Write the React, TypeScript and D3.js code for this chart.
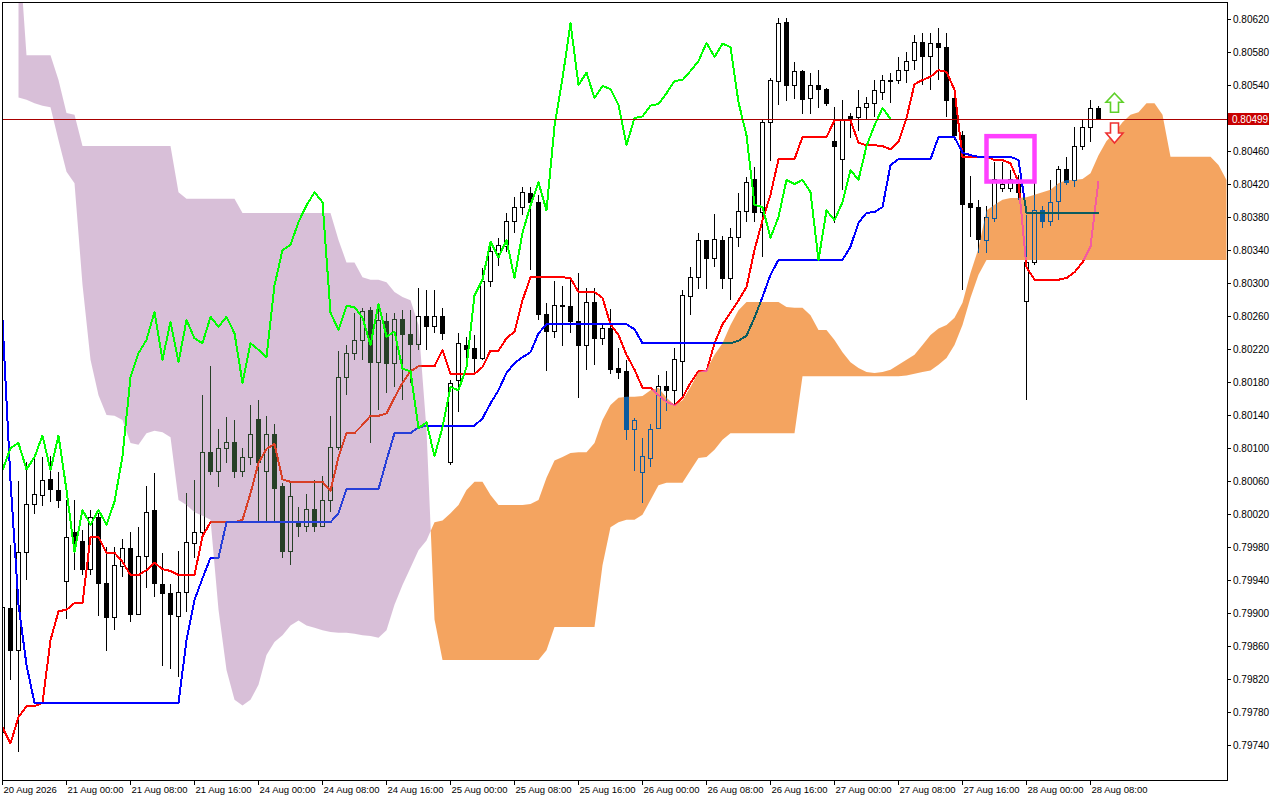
import React from 'react';
import * as d3 from 'd3';

// ---- Data (prices in points, 1 point = 0.00001) ----
const xTickIndex = [0, 8, 16, 24, 32, 40, 48, 56, 64, 72, 80, 88, 96, 104, 112, 120, 128, 136];
const xTickText = ['20 Aug 2026', '21 Aug 00:00', '21 Aug 08:00', '21 Aug 16:00', '24 Aug 00:00', '24 Aug 08:00',
  '24 Aug 16:00', '25 Aug 00:00', '25 Aug 08:00', '25 Aug 16:00', '26 Aug 00:00', '26 Aug 08:00', '26 Aug 16:00',
  '27 Aug 00:00', '27 Aug 08:00', '27 Aug 16:00', '28 Aug 00:00', '28 Aug 08:00'];
const yTicks = [0.7974, 0.7978, 0.7982, 0.7986, 0.799, 0.7994, 0.7998, 0.8002, 0.8006, 0.801, 0.8014, 0.8018,
  0.8022, 0.8026, 0.803, 0.8034, 0.8038, 0.8042, 0.8046, 0.805, 0.8054, 0.8058, 0.8062];

const openPts = [
  79755, 79906, 79855, 79973, 80032, 80043, 80062, 80048, 79938, 79997,
  79987, 79953, 80016, 79936, 79894, 79956, 79978, 79898, 79969, 80024,
  79935, 79924, 79896, 79925, 79984, 79997, 80095, 80071, 80100, 80107,
  80072, 80089, 80135, 80071, 80116, 80053, 79974, 80009, 80005, 80025,
  80005, 80036, 80101, 80186, 80215, 80230, 80267, 80204, 80253, 80203,
  80256, 80237, 80226, 80260, 80247, 80260, 80083, 80182, 80224, 80221,
  80209, 80302, 80336, 80344, 80375, 80392, 80409, 80398, 80262, 80241,
  80273, 80272, 80253, 80224, 80276, 80233, 80245, 80196, 80193, 80123,
  80070, 80087, 80124, 80174, 80170, 80205, 80284, 80307, 80351, 80330,
  80351, 80306, 80355, 80387, 80425, 80385, 80495, 80544, 80616, 80539,
  80556, 80524, 80539, 80534, 80471, 80450, 80502, 80501, 80513, 80517,
  80531, 80546, 80545, 80557, 80570, 80591, 80574, 80590, 80586, 80524,
  80479, 80396, 80392, 80352, 80378, 80415, 80415, 80419, 80277, 80325,
  80388, 80374, 80399, 80438, 80424, 80465, 80488, 80512];
const highPts = [
  79916, 79982, 80060, 80083, 80087, 80089, 80090, 80071, 80037, 80037,
  80001, 80025, 80021, 79980, 79980, 79990, 79998, 80004, 80054, 80070,
  79973, 79935, 79975, 80045, 80061, 80164, 80199, 80123, 80138, 80134,
  80100, 80152, 80158, 80139, 80129, 80058, 80058, 80028, 80044, 80061,
  80066, 80139, 80218, 80225, 80264, 80270, 80271, 80273, 80264, 80264,
  80267, 80267, 80294, 80291, 80291, 80270, 80182, 80239, 80235, 80237,
  80318, 80351, 80355, 80385, 80404, 80416, 80416, 80407, 80276, 80302,
  80296, 80304, 80312, 80294, 80294, 80251, 80268, 80221, 80207, 80136,
  80112, 80129, 80188, 80193, 80221, 80291, 80319, 80361, 80351, 80384,
  80357, 80367, 80409, 80428, 80441, 80497, 80548, 80621, 80621, 80568,
  80558, 80555, 80558, 80536, 80513, 80522, 80506, 80534, 80525, 80546,
  80552, 80555, 80574, 80580, 80601, 80603, 80603, 80609, 80603, 80528,
  80484, 80430, 80401, 80393, 80447, 80447, 80437, 80431, 80382, 80421,
  80393, 80425, 80442, 80453, 80489, 80497, 80522, 80515];
const lowPts = [
  79740, 79819, 79732, 79940, 80020, 80030, 80035, 80027, 79893, 79952,
  79946, 79946, 79896, 79854, 79879, 79944, 79889, 79898, 79930, 79919,
  79836, 79832, 79822, 79901, 79967, 79988, 80067, 80053, 80082, 80064,
  80065, 80079, 80011, 80011, 80011, 79967, 79958, 79992, 79998, 79998,
  80005, 80022, 80098, 80164, 80207, 80207, 80106, 80146, 80167, 80174,
  80158, 80179, 80219, 80219, 80239, 80231, 80079, 80144, 80207, 80188,
  80207, 80295, 80321, 80338, 80361, 80382, 80316, 80255, 80193, 80233,
  80224, 80239, 80161, 80195, 80201, 80225, 80190, 80184, 80110, 80072,
  80033, 80077, 80123, 80145, 80153, 80161, 80261, 80293, 80293, 80319,
  80293, 80279, 80344, 80374, 80374, 80331, 80448, 80516, 80521, 80523,
  80505, 80505, 80512, 80515, 80373, 80413, 80476, 80484, 80499, 80501,
  80522, 80518, 80541, 80542, 80558, 80540, 80534, 80546, 80501, 80473,
  80291, 80356, 80336, 80336, 80374, 80410, 80410, 80401, 80158, 80322,
  80367, 80369, 80376, 80419, 80416, 80461, 80471, 80497];
const closePts = [
  79907, 79855, 79973, 80032, 80044, 80061, 80050, 80036, 79991, 79986,
  79953, 80016, 79936, 79895, 79957, 79978, 79898, 79969, 80022, 79936,
  79924, 79898, 79925, 79985, 79997, 80095, 80071, 80100, 80107, 80072,
  80089, 80116, 80083, 80116, 80051, 79974, 80041, 80005, 80025, 80005,
  80036, 80101, 80186, 80215, 80230, 80266, 80204, 80254, 80203, 80256,
  80237, 80225, 80260, 80247, 80260, 80239, 80178, 80227, 80220, 80209,
  80302, 80338, 80346, 80375, 80392, 80410, 80398, 80262, 80241, 80273,
  80271, 80253, 80224, 80276, 80233, 80245, 80195, 80192, 80122, 80133,
  80090, 80123, 80174, 80170, 80207, 80285, 80307, 80351, 80330, 80353,
  80305, 80355, 80387, 80422, 80385, 80495, 80546, 80615, 80539, 80556,
  80523, 80539, 80535, 80518, 80466, 80497, 80500, 80513, 80517, 80533,
  80545, 80544, 80558, 80568, 80591, 80574, 80590, 80586, 80521, 80479,
  80395, 80392, 80353, 80380, 80425, 80419, 80425, 80410, 80325, 80388,
  80374, 80398, 80438, 80422, 80465, 80488, 80512, 80499];

const tenkanPts = [
  79761, 79742, 79774, 79787, 79787, 79791, 79867, 79902, 79904, 79912,
  79912, 79992, 79992, 79973, 79973, 79962, 79946, 79946, 79952, 79961,
  79953, 79951, 79946, 79946, 79946, 79993, 80010, 80010, 80010, 80010,
  80013, 80045, 80082, 80099, 80105, 80062, 80059, 80059, 80059, 80059,
  80059, 80048, 80089, 80118, 80118, 80128, 80139, 80139, 80142, 80161,
  80179, 80193, 80199, 80199, 80199, 80219, 80190, 80190, 80190, 80190,
  80198, 80218, 80218, 80233, 80241, 80279, 80307, 80307, 80307, 80307,
  80307, 80306, 80289, 80289, 80289, 80282, 80250, 80237, 80213, 80195,
  80173, 80173, 80164, 80156, 80152, 80161, 80179, 80193, 80193, 80227,
  80250, 80264, 80279, 80295, 80340, 80376, 80407, 80450, 80450, 80450,
  80477, 80477, 80477, 80477, 80497, 80497, 80497, 80470, 80467, 80467,
  80466, 80462, 80471, 80500, 80541, 80546, 80550, 80558, 80556, 80534,
  80453, 80453, 80453, 80453, 80449, 80449, 80445, 80422, 80319, 80304,
  80304, 80304, 80304, 80306, 80313, 80325, 80344, 80424];
const kijunPts = [
  80255, 80060, 79910, 79837, 79791, 79791, 79791, 79791, 79791, 79791,
  79791, 79791, 79791, 79791, 79791, 79791, 79791, 79791, 79791, 79791,
  79791, 79791, 79791, 79867, 79916, 79942, 79967, 79967, 80010, 80010,
  80010, 80010, 80010, 80010, 80010, 80010, 80010, 80010, 80010, 80010,
  80010, 80010, 80021, 80050, 80050, 80050, 80050, 80050, 80085, 80118,
  80118, 80118, 80125, 80127, 80127, 80127, 80127, 80127, 80127, 80127,
  80136, 80154, 80170, 80191, 80203, 80210, 80216, 80239, 80250, 80250,
  80250, 80250, 80250, 80250, 80250, 80250, 80250, 80250, 80250, 80244,
  80227, 80227, 80227, 80227, 80227, 80227, 80227, 80227, 80227, 80227,
  80227, 80227, 80230, 80236, 80258, 80283, 80310, 80328, 80328, 80328,
  80328, 80328, 80328, 80328, 80328, 80328, 80344, 80373, 80385, 80386,
  80392, 80443, 80450, 80450, 80450, 80450, 80450, 80477, 80477, 80477,
  80458, 80455, 80453, 80453, 80453, 80453, 80453, 80449, 80385, 80385,
  80385, 80385, 80385, 80385, 80385, 80385, 80385, 80385];
const chikouPts = [
  80073, 80100, 80106, 80074, 80089, 80115, 80073, 80115, 80049, 79974,
  80025, 80007, 80025, 80007, 80035, 80090, 80186, 80215, 80231, 80265,
  80207, 80253, 80204, 80255, 80233, 80227, 80259, 80247, 80259, 80239,
  80179, 80227, 80219, 80210, 80297, 80340, 80346, 80374, 80394, 80410,
  80398, 80264, 80243, 80272, 80271, 80258, 80225, 80275, 80235, 80241,
  80196, 80193, 80124, 80131, 80090, 80125, 80174, 80170, 80198, 80285,
  80304, 80350, 80331, 80352, 80306, 80361, 80394, 80422, 80388, 80490,
  80548, 80615, 80540, 80555, 80524, 80539, 80535, 80516, 80467, 80500,
  80502, 80515, 80517, 80530, 80545, 80546, 80557, 80569, 80591, 80574,
  80590, 80586, 80519, 80479, 80395, 80392, 80355, 80380, 80425, 80420,
  80425, 80410, 80328, 80388, 80376, 80398, 80437, 80425, 80466, 80491,
  80512, 80499];
const spanAPts: (number | null)[] = [
  null, null, 80525, 80522, 80518, 80515, 80513, 80473, 80435, 80421,
  80298, 80207, 80164, 80140, 80139, 80134, 80106, 80104, 80118, 80121,
  80119, 80113, 80037, 80031, 80022, 80018, 80013, 79904, 79831, 79795,
  79788, 79795, 79813, 79849, 79865, 79873, 79885, 79891, 79885, 79882,
  79879, 79877, 79876, 79876, 79875, 79873, 79872, 79870, 79879, 79910,
  79934, 79955, 79976, 79988, 80010, 80012, 80021, 80031, 80049, 80059,
  80059, 80043, 80031, 80031, 80031, 80031, 80032, 80037, 80064, 80085,
  80089, 80094, 80095, 80095, 80106, 80134, 80152, 80161, 80162, 80162,
  80163, 80170, 80173, 80161, 80152, 80158, 80174, 80192, 80195, 80213,
  80227, 80249, 80267, 80277, 80277, 80277, 80277, 80277, 80271, 80270,
  80270, 80261, 80243, 80243, 80231, 80216, 80204, 80197, 80192, 80191,
  80192, 80195, 80201, 80207, 80213, 80225, 80237, 80245, 80249, 80258,
  80276, 80312, 80342, 80388, 80395, 80401, 80403, 80403, 80404, 80407,
  80410, 80413, 80421, 80425, 80425, 80426, 80433, 80455, 80472, 80482,
  80495, 80504, 80507, 80518, 80518, 80504, 80453, 80453, 80453, 80453,
  80453, 80453, 80443, 80425];
const spanBPts: (number | null)[] = [
  null, null, 80716, 80576, 80576, 80576, 80576, 80546, 80506, 80504,
  80466, 80466, 80466, 80466, 80466, 80466, 80466, 80466, 80466, 80466,
  80466, 80466, 80410, 80402, 80402, 80402, 80402, 80402, 80402, 80402,
  80385, 80385, 80385, 80385, 80385, 80385, 80385, 80385, 80385, 80385,
  80385, 80385, 80352, 80325, 80325, 80307, 80304, 80304, 80301, 80289,
  80283, 80279, 80249, 80122, 79892, 79843, 79843, 79843, 79843, 79843,
  79843, 79843, 79843, 79843, 79843, 79843, 79843, 79843, 79855, 79883,
  79883, 79883, 79883, 79883, 79883, 79958, 80004, 80010, 80013, 80013,
  80019, 80037, 80055, 80058, 80058, 80058, 80073, 80088, 80089, 80098,
  80110, 80118, 80118, 80118, 80118, 80118, 80118, 80118, 80118, 80118,
  80187, 80187, 80187, 80187, 80187, 80187, 80187, 80187, 80187, 80187,
  80187, 80187, 80187, 80188, 80190, 80192, 80194, 80201, 80209, 80225,
  80249, 80282, 80310, 80328, 80328, 80328, 80328, 80328, 80328, 80328,
  80328, 80328, 80328, 80328, 80328, 80328, 80328, 80328, 80328, 80328,
  80328, 80328, 80328, 80328, 80328, 80328, 80328, 80328, 80328, 80328,
  80328, 80328, 80328, 80328];

const lastPrice = 0.80499;
const boxIndex = [123, 129];
const boxPrice = [0.80478, 0.80423];
const arrowIndex = 139;
const upArrowTip = 0.8053;
const downArrowTop = 0.80494;

const toPrice = (a: (number | null)[]) => a.map((v) => (v == null ? null : v / 100000));

const FONT = "'Liberation Sans', Arial, sans-serif";

export default function App() {
  const x = d3.scaleLinear().domain([0, 137]).range([2.5, 1098.5]);
  const y = d3.scaleLinear().domain([0.7974, 0.8062]).range([745, 19]);

  const O = toPrice(openPts) as number[];
  const Hh = toPrice(highPts) as number[];
  const Ll = toPrice(lowPts) as number[];
  const C = toPrice(closePts) as number[];
  const tenkan = toPrice(tenkanPts) as number[];
  const kijun = toPrice(kijunPts) as number[];
  const chikou = toPrice(chikouPts) as number[];
  const A = toPrice(spanAPts);
  const B = toPrice(spanBPts);

  const line = d3.line<number>().x((_, i) => x(i)).y((v) => y(v));

  type CP = { px: number; a: number; b: number };
  const cpts: CP[] = [];
  for (let i = 0; i < A.length; i++) {
    const a = A[i];
    const b = B[i];
    if (a == null || b == null) continue;
    const cx = x(i);
    const prev = cpts[cpts.length - 1];
    if (prev) {
      const d0 = prev.a - prev.b;
      const d1 = a - b;
      if (d0 * d1 < 0) {
        const t = d0 / (d0 - d1);
        const v = prev.a + t * (a - prev.a);
        cpts.push({ px: prev.px + t * (cx - prev.px), a: v, b: v });
      }
    }
    cpts.push({ px: cx, a, b });
  }
  const bullArea = d3.area<CP>().x((d) => d.px).y0((d) => y(d.b)).y1((d) => y(Math.max(d.a, d.b)));
  const bearArea = d3.area<CP>().x((d) => d.px).y0((d) => y(d.a)).y1((d) => y(Math.max(d.a, d.b)));

  const plotL = 2, plotT = 2, plotR = 1227, plotB = 780;
  const py = Math.round(y(lastPrice)) + 0.5;

  const ax = x(arrowIndex);
  const upT = y(upArrowTip);
  const dnT = y(downArrowTop);
  const upPath = `M${ax},${upT} L${ax + 8.5},${upT + 9} L${ax + 4},${upT + 9} L${ax + 4},${upT + 19} L${ax - 4},${upT + 19} L${ax - 4},${upT + 9} L${ax - 8.5},${upT + 9} Z`;
  const dnPath = `M${ax - 4},${dnT} L${ax + 4},${dnT} L${ax + 4},${dnT + 10} L${ax + 8.5},${dnT + 10} L${ax},${dnT + 20} L${ax - 8.5},${dnT + 10} L${ax - 4},${dnT + 10} Z`;

  const bx0 = x(boxIndex[0]), bx1 = x(boxIndex[1]);
  const by0 = y(boxPrice[0]), by1 = y(boxPrice[1]);

  return (
    <svg width={1280} height={800} style={{ position: 'absolute', left: 0, top: 0, display: 'block', background: '#ffffff' }}>
      <defs>
        <clipPath id="plot">
          <rect x={plotL + 0.5} y={plotT + 0.5} width={plotR - plotL - 0.5} height={plotB - plotT - 0.5} />
        </clipPath>
      </defs>
      <rect x={0} y={0} width={1280} height={800} fill="#ffffff" />
      <g clipPath="url(#plot)" style={{ isolation: 'isolate' }}>
        <rect x={0} y={0} width={1280} height={800} fill="#ffffff" />
        <g shapeRendering="crispEdges">
          {O.map((o, i) => {
            const c = C[i];
            const cx = x(i);
            const yo = y(o), yc = y(c);
            const top = Math.min(yo, yc);
            const h = Math.max(1, Math.abs(yo - yc));
            const bull = c >= o;
            return (
              <g key={i}>
                <line x1={cx} x2={cx} y1={y(Hh[i])} y2={y(Ll[i])} stroke="#000" strokeWidth={1} />
                <rect x={cx - 2} y={top} width={4} height={h} fill={bull ? '#ffffff' : '#000000'} stroke="#000" strokeWidth={1} />
              </g>
            );
          })}
        </g>
        <path d={line(tenkan) || ''} fill="none" stroke="#ff0000" strokeWidth={2} strokeLinejoin="round" shapeRendering="crispEdges" />
        <path d={line(kijun) || ''} fill="none" stroke="#0000ff" strokeWidth={2} strokeLinejoin="round" shapeRendering="crispEdges" />
        <path d={bullArea(cpts) || ''} fill="rgb(11,91,159)" style={{ mixBlendMode: 'difference' }} />
        <path d={bearArea(cpts) || ''} fill="rgb(39,64,39)" style={{ mixBlendMode: 'difference' }} />
        <path d={line(chikou) || ''} fill="none" stroke="#00ff00" strokeWidth={2} strokeLinejoin="round" shapeRendering="crispEdges" />
        <line x1={plotL} x2={plotR} y1={py} y2={py} stroke="#a80000" strokeWidth={1} />
        <rect x={bx0} y={by0} width={bx1 - bx0} height={by1 - by0} fill="none" stroke="#ff40ff" strokeWidth={4.5} />
        <path d={upPath} fill="#ffffff" stroke="#5fd02a" strokeWidth={1.6} strokeLinejoin="miter" />
        <path d={dnPath} fill="#ffffff" stroke="#ee3030" strokeWidth={1.6} strokeLinejoin="miter" />
      </g>
      <rect x={plotL + 0.5} y={plotT + 0.5} width={plotR - plotL} height={plotB - plotT} fill="none" stroke="#000" strokeWidth={1} shapeRendering="crispEdges" />
      <g fontFamily={FONT} fontSize={10} fill="#000">
        {yTicks.map((v) => {
          const ty = Math.round(y(v)) + 0.5;
          return (
            <g key={v}>
              <line x1={plotR} x2={plotR + 4} y1={ty} y2={ty} stroke="#000" shapeRendering="crispEdges" />
              <text x={plotR + 6} y={ty + 3.5}>{v.toFixed(5)}</text>
            </g>
          );
        })}
      </g>
      <g fontFamily={FONT} fontSize={9.5} fill="#000">
        {xTickIndex.map((idx, k) => {
          const tx = Math.floor(x(idx)) + 0.5;
          return (
            <g key={idx}>
              <line x1={tx} x2={tx} y1={plotB} y2={plotB + 5} stroke="#000" shapeRendering="crispEdges" />
              <text x={tx + 1} y={793}>{xTickText[k]}</text>
            </g>
          );
        })}
      </g>
      <rect x={plotR + 1} y={py - 6.5} width={41} height={12} fill="#c80000" />
      <text x={plotR + 5} y={py + 3.5} fontFamily={FONT} fontSize={10} fill="#ffffff">{lastPrice.toFixed(5)}</text>
    </svg>
  );
}
